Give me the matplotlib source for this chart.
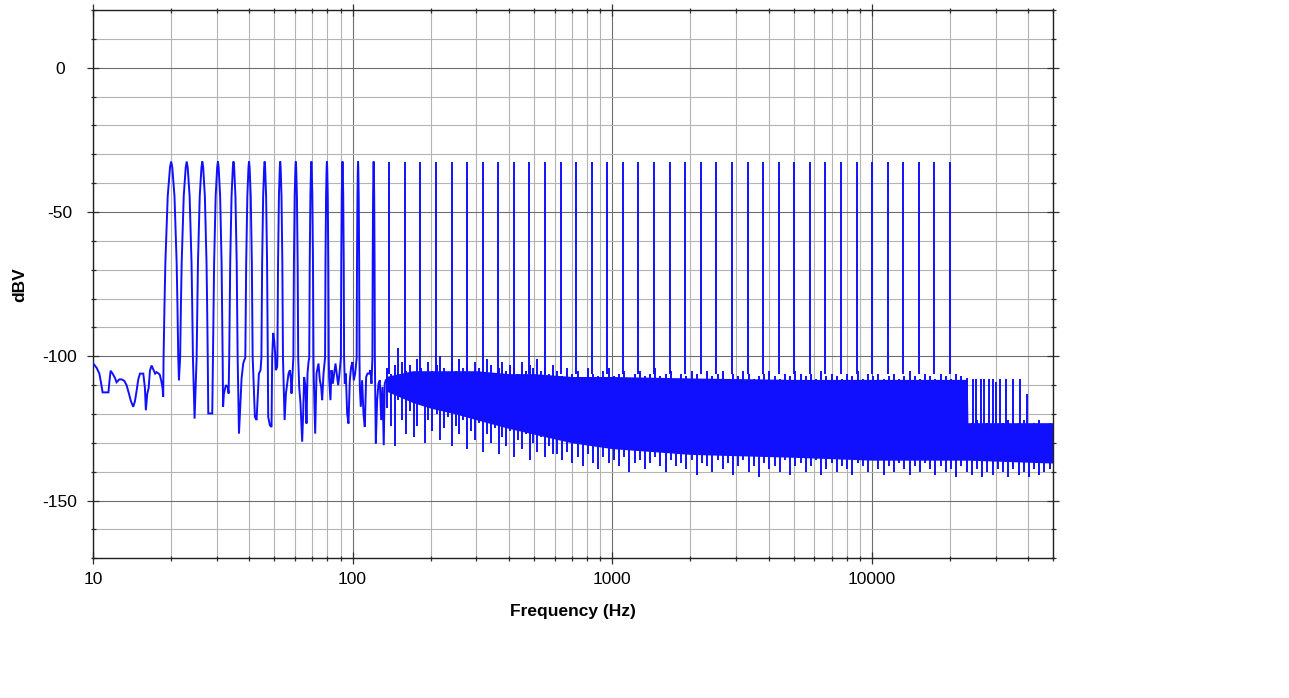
import numpy as np
import matplotlib
matplotlib.use("Agg")
import matplotlib.pyplot as plt
from matplotlib.ticker import FixedLocator, NullFormatter, MultipleLocator

plt.rcParams['font.family'] = ['Liberation Sans', 'DejaVu Sans']

# ---------------- data ----------------
x_ticks = [10, 100, 1000, 10000]
x_tick_labels = ['10', '100', '1000', '10000']
y_ticks = [0, -50, -100, -150]
y_tick_labels = ['0', '-50', '-100', '-150']

# multitone test frequencies (Hz) and their level (dBV)
tone_hz = [20.0, 22.96, 26.37, 30.28, 34.77, 39.91, 45.83, 52.62, 60.42, 69.37,
           79.62, 91.42, 104.97, 120.5, 138.4, 158.9, 182.4, 209.4, 240.4, 276.1,
           317.0, 363.9, 417.9, 479.8, 550.8, 632.5, 726.1, 833.8, 957.2, 1099,
           1262, 1449, 1664, 1910, 2193, 2518, 2891, 3320, 3812, 4377,
           5024, 5770, 6625, 7606, 8733, 10024, 11510, 13210, 15170, 17420, 20000]
tone_dbv = [-32.5, -32.5, -32.5, -32.5, -32.5, -32.5, -32.5, -32.5, -32.5, -32.5,
            -32.5, -32.5, -32.5, -32.5, -32.5, -32.5, -32.5, -32.5, -32.5, -32.5,
            -32.5, -32.5, -32.5, -32.5, -32.5, -32.5, -32.5, -32.5, -32.5, -32.5,
            -32.5, -32.5, -32.5, -32.5, -32.5, -32.5, -32.5, -32.5, -32.5, -32.5,
            -32.5, -32.5, -32.5, -32.5, -32.5, -32.5, -32.5, -32.5, -32.5, -32.5, -32.5]
tone_floor_dbv = -106

# main-lobe shape of each tone (offset in Hz, level relative to peak in dB)
lobe_offset_hz = [-1.3, -1.15, -1.0, -0.8, -0.6, -0.4, -0.2, 0.0, 0.2, 0.4, 0.6, 0.8, 1.0, 1.15, 1.3]
lobe_rel_db = [-68, -50, -35, -23, -12, -7, -2, 0, -2, -7, -12, -23, -35, -50, -68]

# low-frequency noise / troughs between tones (Hz, dBV)
low_noise_hz = [10.0, 10.33, 10.58, 10.73, 10.89, 11.47, 11.56, 11.69, 11.9, 12.15,
                12.33, 12.63, 12.89, 13.2, 13.47, 13.76, 13.99, 14.29, 14.51, 14.72,
                14.94, 15.17, 15.62, 15.85, 15.98, 16.18, 16.38, 16.57, 16.81, 17.15,
                17.35, 17.55, 17.91, 18.1, 18.37, 18.53, 18.64,
                21.43, 24.62, 27.8, 28.8, 31.7, 31.93, 32.5, 33.0, 33.3,
                36.5, 37.35, 37.9, 38.24,
                41.4, 42.03, 42.66, 43.04, 43.55, 44.2,
                47.3, 48.0, 48.72, 49.0, 49.44, 49.88, 50.32, 50.6, 51.2,
                54.7, 55.35, 55.98, 56.64, 57.31, 57.82, 58.16,
                62.27, 63.0, 63.93, 64.5, 65.07, 65.85, 66.43, 67.03, 67.63,
                70.9, 71.75, 72.6, 73.9, 74.78, 75.67, 76.33, 77.25,
                81.2, 82.16, 82.9, 83.88, 84.88, 85.9, 86.9, 87.98, 89.0,
                93.3, 94.15, 95.27, 96.4, 97.55, 98.7, 99.87, 101.06, 102.26,
                106.6, 107.5, 108.8, 110.1, 111.4, 112.75, 114.1, 115.8, 117.2, 118.2,
                122.85, 124.3, 125.8, 127.3, 128.8, 130.3, 131.8, 133.0, 134.2]
low_noise_dbv = [-102.4, -104, -106, -109, -112.5, -112.5, -109, -105, -106, -107.5,
                 -109, -108, -108, -108.5, -110, -113, -115.5, -117.5, -115.5, -112,
                 -108, -106, -106, -111, -118.7, -113, -111, -105, -103.2, -105,
                 -106, -105.5, -106, -106.5, -109, -111, -114,
                 -108.3, -121.6, -119.8, -119.8, -117.5, -112.9, -110, -110.6, -112.9,
                 -126.8, -107.7, -102.5, -101.4,
                 -104.8, -121, -122.1, -115.2, -106, -104.8,
                 -121, -123.9, -124.5, -100.2, -91.9, -94.5, -99, -104.8, -103.7,
                 -122.1, -112.9, -109.5, -106, -104.8, -107.7, -112.9,
                 -110.6, -116.4, -129.6, -119.8, -107.2, -110.6, -123.3, -106, -102,
                 -108.3, -126.8, -106, -102.5, -108.3, -110.6, -115.2, -106,
                 -107.7, -115.2, -104.8, -109.5, -106, -102.5, -106, -110, -106,
                 -109.5, -106, -119.8, -123.3, -108.3, -103.7, -102, -108.3, -106,
                 -110.6, -117.5, -108.3, -119.8, -124.5, -107.2, -106, -106, -104.8, -109.5,
                 -130.2, -115.2, -109.5, -108.3, -122.1, -110.6, -130.8, -109.5, -108.3]

# solid core of the noise floor above ~135 Hz (Hz, upper dBV, lower dBV)
core_hz = [134.2, 170, 200, 250, 300, 400, 500, 700, 1000, 2000, 5000, 10000, 20000, 23300, 23450, 50000]
core_hi = [-107, -105, -105, -105, -105, -106, -106, -107, -107, -107.5, -108, -108, -108, -108, -123, -123]
core_lo = [-112, -116, -118, -120, -122, -125, -127, -130, -132, -134, -135, -136, -136, -136, -136, -137]

# individual noise excursions (Hz, top dBV, bottom dBV)
noise_hz = [136, 141, 145, 150, 155, 161, 166, 172, 177, 184, 190,
            196, 203, 211, 218, 225, 233, 242, 250, 258, 267, 277,
            286, 296, 307, 318, 329, 340, 352, 365, 377, 391, 404,
            419, 433, 449, 464, 481, 497, 515, 533, 552, 571, 591,
            612, 641, 671, 702, 735, 770, 806, 844,
            884, 925, 969, 1014, 1062, 1112, 1164, 1219,
            1276, 1336, 1399, 1465, 1534, 1606, 1682, 1761,
            1844, 1931, 2022, 2117, 2217, 2321, 2430, 2545,
            2665, 2790, 2921, 3059, 3203, 3354, 3512, 3677,
            3850, 4032, 4222, 4420, 4629, 4847, 5075, 5314,
            5564, 5826, 6101, 6388, 6689, 7004, 7334, 7680,
            8041, 8420, 8817, 9232, 9667, 10122, 10599, 11098,
            11621, 12168, 12741, 13342, 13970, 14628, 15317, 16039,
            16794, 17585, 18414, 19281, 20189, 21140, 22136, 23179,
            24270, 25414, 26611, 27864, 29177, 30551, 31990, 33497,
            35075, 36727, 38457, 40269, 42165, 44152, 46232, 48409]
noise_top = [-104, -106, -103, -97, -102, -105, -103, -107, -101, -104, -106,
             -102, -105, -103, -100, -104, -106, -102, -105, -101, -104, -103,
             -106, -102, -104, -105, -101, -103, -106, -104, -102, -105, -103,
             -104, -106, -102, -105, -103, -104, -101, -105, -104, -106, -103,
             -105, -107, -104, -106, -105, -108, -104, -106,
             -107, -105, -104, -107, -106, -105, -108, -106,
             -105, -107, -106, -104, -107, -106, -105, -108,
             -106, -107, -105, -106, -108, -105, -107, -106,
             -105, -108, -106, -107, -105, -106, -108, -107,
             -106, -105, -107, -108, -106, -107, -105, -106,
             -107, -106, -108, -105, -107, -106, -107, -108,
             -106, -107, -105, -108, -106, -107, -106, -108,
             -107, -106, -108, -107, -105, -107, -108, -106,
             -107, -108, -106, -107, -108, -106, -107, -108,
             -123, -122, -124, -123, -122, -124, -123, -122,
             -124, -123, -122, -124, -123, -122, -124, -123]
noise_bot = [-118, -124, -131, -115, -122, -127, -119, -128, -124, -117, -130,
             -122, -126, -120, -129, -125, -121, -131, -124, -127, -122, -132,
             -126, -129, -123, -133, -127, -130, -125, -134, -128, -131, -126,
             -135, -129, -132, -127, -136, -130, -133, -128, -135, -131, -134,
             -134, -136, -133, -137, -135, -138, -134, -137,
             -139, -135, -137, -136, -138, -135, -140, -137,
             -136, -139, -137, -135, -138, -140, -136, -138,
             -137, -139, -136, -141, -137, -138, -140, -136,
             -139, -137, -141, -138, -136, -140, -138, -142,
             -137, -139, -138, -140, -136, -141, -138, -137,
             -140, -138, -136, -141, -139, -137, -140, -138,
             -139, -141, -137, -138, -140, -136, -139, -141,
             -138, -140, -137, -139, -141, -138, -140, -137,
             -139, -141, -138, -140, -139, -142, -138, -140,
             -141, -139, -142, -140, -141, -139, -140, -142,
             -139, -141, -140, -142, -139, -141, -140, -139]

# spurious lines above 20 kHz (Hz, dBV)
spur_hz = [23190, 24450, 25210, 26350, 27140, 28360, 29380, 30100, 31190, 32880, 34840, 37220, 39600]
spur_top = [-107.5, -108, -108, -108, -108, -108, -108, -109, -108, -108, -108, -108, -113]
spur_bot = [-124, -124, -124, -124, -124, -124, -124, -124, -124, -124, -124, -124, -124]

# ---------------- figure ----------------
W, H = 1289, 698
fig = plt.figure(figsize=(W / 100, H / 100), dpi=100)
ax = fig.add_axes([93 / W, 1 - 558.3 / H, (1053.3 - 93) / W, (558.3 - 10) / H])

blue = '#1010ff'
lw = 1.4

# core noise band
ax.fill_between(core_hz, core_lo, core_hi, color=blue, lw=0, zorder=2)
# noise excursions
ax.vlines(noise_hz, noise_bot, noise_top, color=blue, lw=lw, zorder=3)
ax.vlines(spur_hz, spur_bot, spur_top, color=blue, lw=lw, zorder=3)

# low-frequency trace with tone lobes
pts = list(zip(low_noise_hz, low_noise_dbv))
for f, lev in zip(tone_hz, tone_dbv):
    if f < 135:
        for off, rel in zip(lobe_offset_hz, lobe_rel_db):
            pts.append((f + off, lev + rel))
pts.sort(key=lambda p: p[0])
ax.plot([p[0] for p in pts], [p[1] for p in pts], color=blue, lw=lw, zorder=4,
        solid_joinstyle='miter')

# higher tones as narrow spikes
hi_f = [f for f in tone_hz if f >= 135]
hi_l = [l for f, l in zip(tone_hz, tone_dbv) if f >= 135]
ax.vlines(hi_f, tone_floor_dbv, hi_l, color=blue, lw=lw, zorder=4)

# axes
ax.set_xscale('log')
ax.set_xlim(10, 50000)
ax.set_ylim(-170, 20)

ax.xaxis.set_major_locator(FixedLocator(x_ticks))
ax.set_xticklabels(x_tick_labels)
ax.xaxis.set_minor_locator(FixedLocator(
    [m * d for d in [10, 100, 1000, 10000] for m in range(2, 10) if m * d <= 50000]))
ax.xaxis.set_minor_formatter(NullFormatter())
ax.yaxis.set_major_locator(FixedLocator(y_ticks))
ax.set_yticklabels(y_tick_labels)
ax.yaxis.set_minor_locator(MultipleLocator(10))

ax.grid(which='major', color='#6e6e6e', lw=0.8)
ax.grid(which='minor', color='#b4b4b4', lw=0.8)
ax.set_axisbelow(True)

for s in ax.spines.values():
    s.set_color('#202020')
    s.set_linewidth(1.0)

ax.tick_params(which='major', direction='inout', length=8.4, width=0.9, color='#303030',
               labelsize=12.5, top=True, right=True)
ax.tick_params(which='minor', direction='inout', length=3.6, width=0.9, color='#303030',
               top=True, right=True)
ax.tick_params(axis='y', which='major', pad=19.5)
ax.tick_params(axis='x', which='major', pad=6.0)
for t in ax.get_yticklabels():
    t.set_horizontalalignment('center')

ax.set_xlabel('Frequency (Hz)', fontsize=12.5, fontweight='bold')
ax.xaxis.set_label_coords(0.5, -0.0833)
ax.set_ylabel('dBV', fontsize=12.5, fontweight='bold')
ax.yaxis.set_label_coords(-0.076, 0.5)
ax.yaxis.label.set_verticalalignment('center')

fig.savefig('out.png', dpi=100)
